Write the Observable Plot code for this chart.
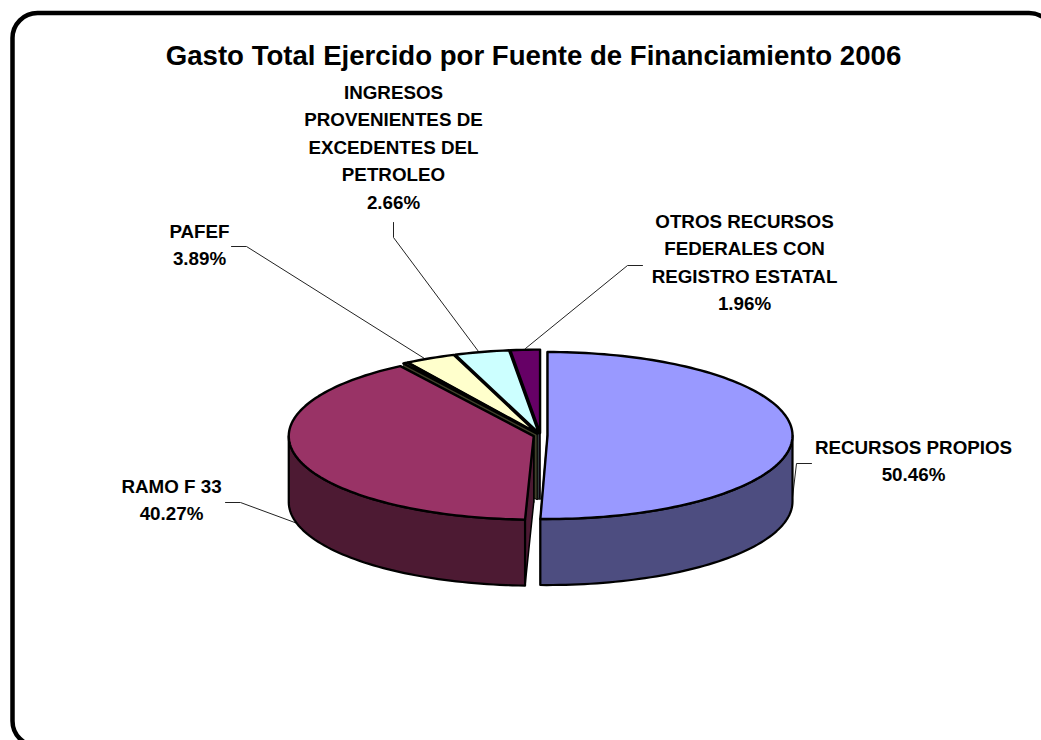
<!DOCTYPE html>
<html lang="es">
<head>
<meta charset="utf-8">
<title>Gasto Total Ejercido por Fuente de Financiamiento 2006</title>
<script src="https://cdn.jsdelivr.net/npm/d3@7"></script>
<script src="https://cdn.jsdelivr.net/npm/@observablehq/plot@0.6"></script>
<style>
html,body{margin:0;padding:0;background:#fff}
svg{display:block}
</style>
</head>
<body>
<div id="chart"></div>
<script>
const chartTitle = "Gasto Total Ejercido por Fuente de Financiamiento 2006";

// Labelled sources and the percentages printed beside them
const sources = ["RECURSOS PROPIOS", "RAMO F 33", "PAFEF",
  "INGRESOS\nPROVENIENTES DE\nEXCEDENTES DEL\nPETROLEO", "OTROS RECURSOS\nFEDERALES CON\nREGISTRO ESTATAL"];
const printedPct = ["50.46%", "40.27%", "3.89%", "2.66%", "1.96%"];

// Slices as drawn, clockwise from twelve o'clock; shares
const sliceNames  = ["RECURSOS PROPIOS", "sin etiqueta A", "RAMO F 33", "sin etiqueta B", "PAFEF", "INGRESOS", "OTROS"];
const sliceShares = [50.46, 0.10, 40.27, 0.30, 3.31, 3.61, 1.94];
const topColors   = ["#9999ff", "#808060", "#993366", "#808060", "#ffffcc", "#ccffff", "#660066"];
const sideColors  = ["#4d4d80", "#22221a", "#4d1a33", "#40402a", "#808066", "#668080", "#330033"];

// Layout of the pie, in pixels of the 1041x740 picture
const pieX = 540, pieY = 435, rx = 245, ry = 83.5, depth = 66, explode = 7;
const u = (px) => (px - pieX) / rx;
const v = (py) => (pieY - py) / ry;
const rad = (deg) => deg * Math.PI / 180;

const total = d3.sum(sliceShares);
let running = 0;
const slices = sliceShares.map((share, i) => {
  const a0 = running / total * 360;
  running += share;
  const a1 = running / total * 360;
  const mid = (a0 + a1) / 2;
  const e = explode / rx;
  return {name: sliceNames[i], a0, a1, cx: e * Math.sin(rad(mid)), cy: e * Math.cos(rad(mid)), top: topColors[i], side: sideColors[i]};
});
const d = depth / ry;
const rim = (s, a, drop = 0) => ({x: s.cx + Math.sin(rad(a)), y: s.cy + Math.cos(rad(a)) - drop});
const arc = (s, a, b, drop = 0) => {
  const n = Math.max(2, Math.ceil(Math.abs(b - a) / 1.5));
  return d3.range(n + 1).map((i) => rim(s, a + (b - a) * i / n, drop));
};
const face = (pts, fill, strokeWidth) => Plot.line(pts, {x: "x", y: "y", fill, stroke: "#000", strokeWidth, curve: "linear-closed", strokeLinejoin: "round"});

// Back-to-front paint order; the first sliver leaves only a gap in the picture
const order = [6, 5, 4, 3, 2, 0].map((i) => slices[i]);
const walls = [];
for (const s of order) {
  const c = {x: s.cx, y: s.cy}, cb = {x: s.cx, y: s.cy - d};
  for (const a of [s.a1, s.a0]) {
    walls.push(face([c, rim(s, a), rim(s, a, d), cb], s.side, s.a0 > 300 ? 0.7 : 1.5));
  }
  const from = Math.max(s.a0, 90), to = Math.min(s.a1, 270);
  if (to > from) walls.push(face([...arc(s, from, to), ...arc(s, to, from, d)], s.side, 2.2));
}
const tops = order.map((s) => face([{x: s.cx, y: s.cy}, ...arc(s, s.a0, s.a1)], s.top, 2.4));

// Frame, leaders and labels: annotation layout, in pixels converted to pie units
const frame = [{x1: u(12.5), x2: u(1054), y1: v(13), y2: v(746)}];
const leaderPaths = [
  [[811, 463], [796, 463], [792, 497]],
  [[225, 502], [240, 502], [297, 523]],
  [[231, 246], [246, 246], [424, 358]],
  [[393, 222], [393, 237], [478, 351]],
  [[642, 265], [627, 265], [525, 348]]
];
const labelCenters = [[913, 447], [171, 486], [199, 231], [393, 92], [744, 221]];
const lineStep = 27.6;
const labelRows = sources.flatMap((name, i) => {
  const lines = [...name.split("\n"), printedPct[i]];
  return lines.map((text, k) => ({text, x: u(labelCenters[i][0]), y: v(labelCenters[i][1] + k * lineStep)}));
});

const plot = Plot.plot({
  width: 1041, height: 740, margin: 0,
  style: {background: "#fff", fontFamily: "'Liberation Sans', Arial, sans-serif"},
  x: {domain: [-1, 1], range: [pieX - rx, pieX + rx], axis: null},
  y: {domain: [-1, 1], range: [pieY + ry, pieY - ry], axis: null},
  marks: [
    Plot.rect(frame, {x1: "x1", x2: "x2", y1: "y1", y2: "y2", fill: "none", stroke: "#000", strokeWidth: 4.5, rx: 25}),
    ...leaderPaths.map((path) => Plot.line(path.map(([px, py]) => ({x: u(px), y: v(py)})), {x: "x", y: "y", stroke: "#222", strokeWidth: 1})),
    ...walls,
    ...tops,
    Plot.text([chartTitle], {x: () => u(533), y: () => v(56), text: (t) => t, fontSize: 27.6, fontWeight: 700, fill: "#000"}),
    Plot.text(labelRows, {x: "x", y: "y", text: "text", fontSize: 18.8, fontWeight: 700, fill: "#000"})
  ]
});
document.getElementById("chart").append(plot);
</script>
</body>
</html>
